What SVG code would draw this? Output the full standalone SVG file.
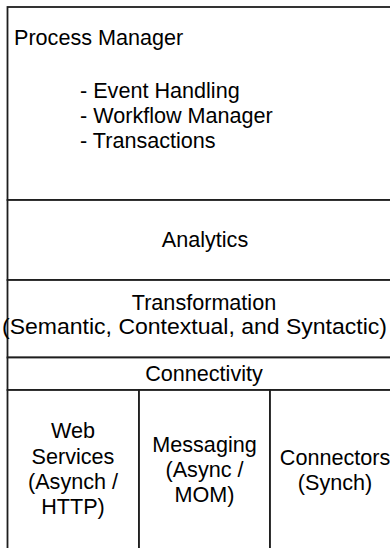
<svg xmlns="http://www.w3.org/2000/svg" width="390" height="548" viewBox="0 0 390 548">
  <style>
    .box { fill: #ffffff; stroke: #1e1e1e; stroke-width: 1.8; }
    .lbl { font-family: "Liberation Sans", Arial, sans-serif; font-size: 21.6px; fill: #000000; }
    .mid { text-anchor: middle; }
  </style>
  <rect x="0" y="0" width="390" height="548" fill="#ffffff"/>

  <!-- Layered stack; the frame runs past the right and bottom edges -->
  <g id="process-manager">
    <rect class="box" x="7.5" y="7" width="396" height="193"/>
    <text class="lbl" x="14" y="45">Process Manager</text>
    <text class="lbl" x="80" y="98">- Event Handling</text>
    <text class="lbl" x="80" y="123">- Workflow Manager</text>
    <text class="lbl" x="80" y="148">- Transactions</text>
  </g>

  <g id="analytics">
    <rect class="box" x="7.5" y="200" width="396" height="80"/>
    <text class="lbl mid" x="205" y="247">Analytics</text>
  </g>

  <g id="transformation">
    <rect class="box" x="7.5" y="280" width="396" height="77.5"/>
    <text class="lbl mid" x="204" y="310">Transformation</text>
    <text class="lbl" x="2" y="334" textLength="385" lengthAdjust="spacingAndGlyphs">(Semantic, Contextual, and Syntactic)</text>
  </g>

  <g id="connectivity">
    <rect class="box" x="7.5" y="357.5" width="396" height="32.5"/>
    <text class="lbl mid" x="204" y="381">Connectivity</text>
  </g>

  <g id="web-services">
    <rect class="box" x="7.5" y="390" width="131.5" height="170"/>
    <text class="lbl mid" x="73" y="438">Web</text>
    <text class="lbl mid" x="73" y="464">Services</text>
    <text class="lbl mid" x="73" y="489">(Asynch /</text>
    <text class="lbl mid" x="73" y="514">HTTP)</text>
  </g>

  <g id="messaging">
    <rect class="box" x="139" y="390" width="131" height="170"/>
    <text class="lbl mid" x="204.5" y="452">Messaging</text>
    <text class="lbl mid" x="204.5" y="477">(Async /</text>
    <text class="lbl mid" x="204.5" y="502">MOM)</text>
  </g>

  <g id="connectors">
    <rect class="box" x="270" y="390" width="133.5" height="170"/>
    <text class="lbl mid" x="335" y="465">Connectors</text>
    <text class="lbl mid" x="335" y="490">(Synch)</text>
  </g>

  <g id="connectors-links"/>
</svg>
